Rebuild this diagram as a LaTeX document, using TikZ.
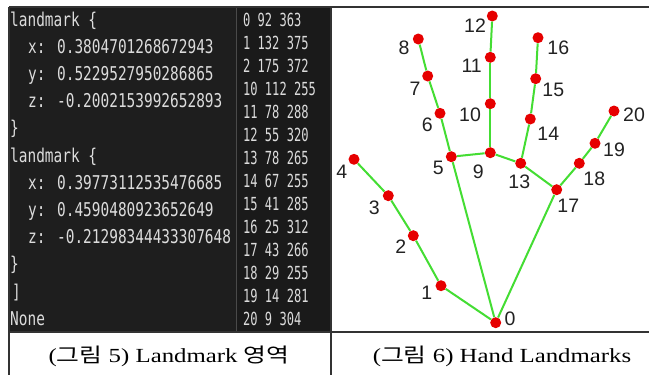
\documentclass[tikz,border=0pt]{standalone}
\usepackage{fontspec}
\usepackage{graphicx}
\setmainfont{Liberation Serif}
\newfontfamily\krfont{Noto Sans CJK KR}
\newfontfamily\monofont{DejaVu Sans Mono}
\newfontfamily\labfont{Liberation Sans}
\definecolor{panelbg}{HTML}{1E1E1E}
\definecolor{panelbgb}{HTML}{1A1A1A}
\definecolor{sepcol}{HTML}{4A4A4A}
\definecolor{codefg}{HTML}{DCDCDC}
\definecolor{bonecol}{HTML}{44DD33}
\definecolor{jointcol}{HTML}{E60000}
\definecolor{framecol}{HTML}{333333}
\definecolor{labcol}{HTML}{222222}
\tikzset{
  codetext/.style={inner sep=0pt, anchor=base west, text=codefg, font=\monofont\fontsize{19}{19}\selectfont},
  numtext/.style={inner sep=0pt, anchor=base west, text=codefg, font=\monofont\fontsize{18}{18}\selectfont},
  joint/.style={circle, fill=jointcol, inner sep=0pt, minimum size=11pt},
  bone/.style={draw=bonecol, line width=2pt},
  jlabel/.style={inner sep=0pt, text=labcol, font=\labfont\fontsize{19.5}{19.5}\selectfont},
  captext/.style={inner sep=0pt, anchor=base, text=black, font=\fontsize{20}{20}\selectfont},
  frameline/.style={draw=framecol, line width=1.4pt}
}
\newcommand{\cx}[1]{\scalebox{0.76}[1]{#1}}
\newcommand{\nx}[1]{\scalebox{0.67}[1]{#1}}
\newcommand{\capx}[1]{\scalebox{1.24}[1]{#1}}
\begin{document}
\begin{tikzpicture}[x=1pt,y=-1pt]
\useasboundingbox (0,0) rectangle (650,375);
\fill[white] (0,0) rectangle (650,375);
% dark panel
\fill[panelbg] (9,7) rectangle (331,332);
\fill[panelbgb] (236,7) rectangle (331,332);
\draw[draw=sepcol, line width=1pt] (236,7) -- (236,332);
% code text
\node[codetext] (c1) at (10,26) {\cx{landmark \{}};
\node[codetext] (c2) at (28,53.2) {\cx{x: 0.3804701268672943}};
\node[codetext] (c3) at (28,80.4) {\cx{y: 0.5229527950286865}};
\node[codetext] (c4) at (28,107.6) {\cx{z: -0.2002153992652893}};
\node[codetext] (c5) at (10,134.8) {\cx{\}}};
\node[codetext] (c6) at (10,162) {\cx{landmark \{}};
\node[codetext] (c7) at (28,189.2) {\cx{x: 0.39773112535476685}};
\node[codetext] (c8) at (28,216.4) {\cx{y: 0.4590480923652649}};
\node[codetext] (c9) at (28,243.6) {\cx{z: -0.21298344433307648}};
\node[codetext] (c10) at (10,270.8) {\cx{\}}};
\node[codetext] (c11) at (12,298) {\cx{]}};
\node[codetext] (c12) at (10,325.2) {\cx{None}};
% number column
\node[numtext] (n0) at (243,26.7) {\nx{0 92 363}};
\node[numtext] (n1) at (243,49.65) {\nx{1 132 375}};
\node[numtext] (n2) at (243,72.6) {\nx{2 175 372}};
\node[numtext] (n3) at (243,95.55) {\nx{10 112 255}};
\node[numtext] (n4) at (243,118.5) {\nx{11 78 288}};
\node[numtext] (n5) at (243,141.45) {\nx{12 55 320}};
\node[numtext] (n6) at (243,164.4) {\nx{13 78 265}};
\node[numtext] (n7) at (243,187.35) {\nx{14 67 255}};
\node[numtext] (n8) at (243,210.3) {\nx{15 41 285}};
\node[numtext] (n9) at (243,233.25) {\nx{16 25 312}};
\node[numtext] (n10) at (243,256.2) {\nx{17 43 266}};
\node[numtext] (n11) at (243,279.15) {\nx{18 29 255}};
\node[numtext] (n12) at (243,302.1) {\nx{19 14 281}};
\node[numtext] (n13) at (243,325.05) {\nx{20 9 304}};
% frame
\draw[frameline] (9,7) -- (649,7);
\draw[frameline] (9,7) -- (9,375);
\draw[frameline] (331,7) -- (331,375);
\draw[frameline] (9,332) -- (649,332);
% hand joints
\node[joint] (p0) at (495.7,322.7) {};
\node[joint] (p1) at (441,285.7) {};
\node[joint] (p2) at (413.3,235.7) {};
\node[joint] (p3) at (388.3,195.7) {};
\node[joint] (p4) at (354,159.3) {};
\node[joint] (p5) at (451.3,156.7) {};
\node[joint] (p6) at (440,113.3) {};
\node[joint] (p7) at (427.7,76) {};
\node[joint] (p8) at (418.3,39) {};
\node[joint] (p9) at (490.3,152.7) {};
\node[joint] (p10) at (490.3,103.7) {};
\node[joint] (p11) at (490.3,57.3) {};
\node[joint] (p12) at (492.3,16) {};
\node[joint] (p13) at (520.7,163.3) {};
\node[joint] (p14) at (530.3,119) {};
\node[joint] (p15) at (535.7,78.7) {};
\node[joint] (p16) at (538,37.7) {};
\node[joint] (p17) at (556.7,189.7) {};
\node[joint] (p18) at (579.3,163.3) {};
\node[joint] (p19) at (595,143.3) {};
\node[joint] (p20) at (614,111) {};
% bones
\draw[bone] (p0) -- (p1);
\draw[bone] (p1) -- (p2);
\draw[bone] (p2) -- (p3);
\draw[bone] (p3) -- (p4);
\draw[bone] (p0) -- (p5);
\draw[bone] (p5) -- (p6);
\draw[bone] (p6) -- (p7);
\draw[bone] (p7) -- (p8);
\draw[bone] (p5) -- (p9);
\draw[bone] (p9) -- (p10);
\draw[bone] (p10) -- (p11);
\draw[bone] (p11) -- (p12);
\draw[bone] (p9) -- (p13);
\draw[bone] (p13) -- (p14);
\draw[bone] (p14) -- (p15);
\draw[bone] (p15) -- (p16);
\draw[bone] (p13) -- (p17);
\draw[bone] (p0) -- (p17);
\draw[bone] (p17) -- (p18);
\draw[bone] (p18) -- (p19);
\draw[bone] (p19) -- (p20);
% joint labels
\node[jlabel] (t0) at (510,318.3) {0};
\node[jlabel] (t1) at (426.7,292.7) {1};
\node[jlabel] (t2) at (400.7,246.7) {2};
\node[jlabel] (t3) at (374.3,207.3) {3};
\node[jlabel] (t4) at (341.7,171.7) {4};
\node[jlabel] (t5) at (438.3,168.3) {5};
\node[jlabel] (t6) at (427.3,124.3) {6};
\node[jlabel] (t7) at (415,88.3) {7};
\node[jlabel] (t8) at (404,47.7) {8};
\node[jlabel] (t9) at (478.3,171.7) {9};
\node[jlabel] (t10) at (470,114.3) {10};
\node[jlabel] (t11) at (471.7,65.7) {11};
\node[jlabel] (t12) at (475,26) {12};
\node[jlabel] (t13) at (519.3,181.7) {13};
\node[jlabel] (t14) at (548.3,133.3) {14};
\node[jlabel] (t15) at (553.3,90) {15};
\node[jlabel] (t16) at (558.3,47.3) {16};
\node[jlabel] (t17) at (568.3,206) {17};
\node[jlabel] (t18) at (594.3,179) {18};
\node[jlabel] (t19) at (614,150) {19};
\node[jlabel] (t20) at (634,115) {20};
% captions
\node[captext] (cap1) at (169,362) {\capx{({\krfont 그림} 5) Landmark {\krfont 영역}}};
\node[captext] (cap2) at (502,362) {\capx{({\krfont 그림} 6) Hand Landmarks}};
\end{tikzpicture}
\end{document}
